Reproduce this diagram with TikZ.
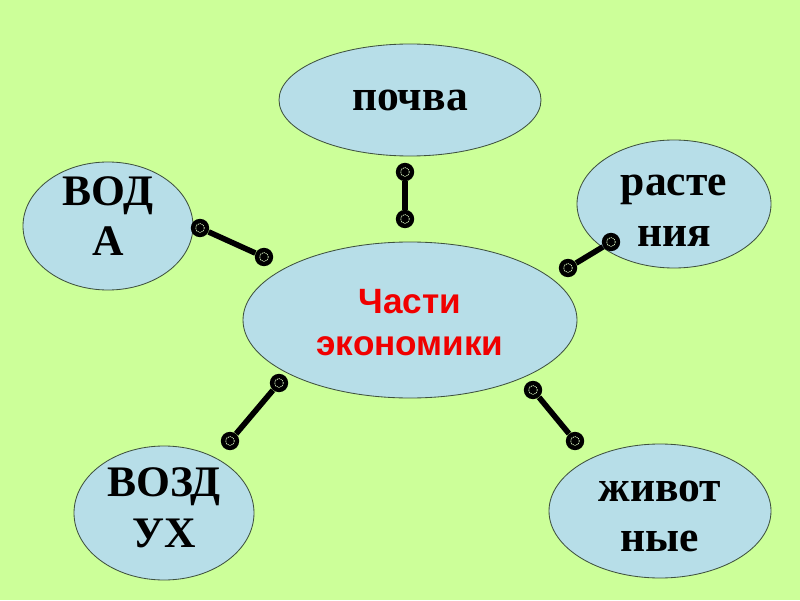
\documentclass[tikz,border=0pt]{standalone}
\usepackage{fontspec}
\setmainfont{Liberation Serif}
\setsansfont{Liberation Sans}
\usepackage{xcolor}
\usetikzlibrary{shapes.geometric}

\definecolor{pagebg}{HTML}{CCFF99}
\definecolor{blobfill}{HTML}{B7DEE8}
\definecolor{blobline}{HTML}{3F523F}
\definecolor{titlered}{HTML}{F00000}

\begin{document}
\begin{tikzpicture}[
  part/.style={
    draw=blobline, fill=blobfill, ellipse, line width=0.6pt, inner sep=0pt
  },
  word/.style={
    align=center, inner sep=0pt, font=\fontsize{31}{36}\selectfont\bfseries
  },
  hubword/.style={
    word, text=titlered,
    font=\fontsize{25}{30}\selectfont\sffamily\bfseries
  },
  plug/.style={
    circle, fill=black, minimum size=4.6mm, inner sep=0pt,
    path picture={\draw[pagebg!50!white, line width=0.5pt,
        dash pattern=on 0.8pt off 0.6pt]
      (path picture bounding box.center) circle (1.1mm);}
  },
  wire/.style={line width=4pt, black},
]
\fill[pagebg] (0,0) rectangle (20,15);
\useasboundingbox (0,0) rectangle (20,15);

%% the hub and its parts
\node[part, minimum width=8.35cm, minimum height=3.9cm] (econ) at (10.25,7.0) {};
\node[part, minimum width=6.55cm, minimum height=2.8cm] (soil) at (10.25,12.5) {};
\node[part, minimum width=4.25cm, minimum height=3.2cm] (water) at (2.7,9.35) {};
\node[part, minimum width=4.85cm, minimum height=3.2cm] (plants) at (16.85,9.9) {};
\node[part, minimum width=4.5cm, minimum height=3.35cm] (air) at (4.1,2.175) {};
\node[part, minimum width=5.55cm, minimum height=3.35cm] (animals) at (16.5,2.225) {};

%% texts
\node[hubword] (econTxt) at ([yshift=-2pt]econ) {Части\\экономики};
\node[word] (soilTxt) at (soil) {почва};
\node[word] (waterTxt) at ([yshift=7pt]water) {ВОД\\А};
\node[word] (plantsTxt) at ([yshift=-5pt]plants) {расте\\ния};
\node[word] (airTxt) at ([yshift=3.5pt]air) {ВОЗД\\УХ};
\node[word] (animalsTxt) at ([yshift=-4pt]animals) {живот\\ные};

%% plugs
\node[plug] (waterA)   at (5.0,9.3)     {};
\node[plug] (waterB)   at (6.6,8.575)   {};
\node[plug] (soilA)    at (10.125,10.7) {};
\node[plug] (soilB)    at (10.125,9.525){};
\node[plug] (plantsA)  at (15.275,8.95) {};
\node[plug] (plantsB)  at (14.2,8.3)    {};
\node[plug] (airA)     at (6.975,5.425) {};
\node[plug] (airB)     at (5.75,3.975)  {};
\node[plug] (animalsA) at (13.325,5.25) {};
\node[plug] (animalsB) at (14.375,3.975){};

%% wires
\draw[wire] (waterA) -- (waterB);
\draw[wire] (soilA) -- (soilB);
\draw[wire] (plantsA) -- (plantsB);
\draw[wire] (airA) -- (airB);
\draw[wire] (animalsA) -- (animalsB);
\end{tikzpicture}
\end{document}
